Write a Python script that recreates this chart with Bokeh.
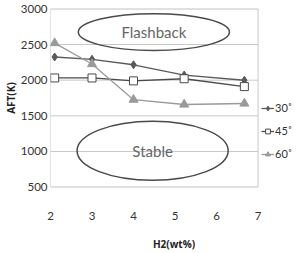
from bokeh.plotting import figure
from bokeh.models import Legend, LegendItem, Ellipse, ColumnDataSource, Label, FixedTicker
from bokeh.embed import file_html
from bokeh.resources import INLINE

h2 = [2.1, 3.0, 4.0, 5.22, 6.67]
aft_30 = [2325, 2293, 2216, 2072, 1999]
aft_45 = [2031, 2031, 1990, 2020, 1910]
aft_60 = [2520, 2226, 1727, 1659, 1673]
series_names = ["30˚", "45˚", "60˚"]
x_ticks = [2, 3, 4, 5, 6, 7]
y_ticks = [500, 1000, 1500, 2000, 2500, 3000]
regions = ["Flashback", "Stable"]
region_x = [4.49, 4.46]
region_y = [2674, 1010]
region_w = [3.64, 3.64]
region_h = [516, 829]

FONT = "Lato"
p = figure(width=297, height=253, output_backend="svg", toolbar_location=None,
           x_range=(2, 7.95), y_range=(495, 3005),
           min_border_left=0, min_border_right=0, min_border_top=8, min_border_bottom=0)
p.outline_line_color = None
p.background_fill_color = "white"
p.border_fill_color = "white"
p.xgrid.grid_line_color = None
p.ygrid.grid_line_color = None

for ax in (p.xaxis[0], p.yaxis[0]):
    ax.axis_line_color = None
    ax.major_tick_line_color = None
    ax.minor_tick_line_color = None
    ax.major_tick_out = 0
    ax.major_tick_in = 0
    ax.minor_tick_out = 0
    ax.minor_tick_in = 0
    ax.major_label_text_font = FONT
    ax.major_label_text_font_size = "11.5px"
    ax.major_label_text_color = "#333333"
    ax.axis_label_text_font = "Open Sans"
    ax.axis_label_text_font_size = "10px"
    ax.axis_label_text_font_style = "bold"
    ax.axis_label_text_color = "#222222"
p.xaxis.ticker = FixedTicker(ticks=x_ticks)
p.yaxis.ticker = FixedTicker(ticks=y_ticks)
p.xaxis.major_label_standoff = 24
p.yaxis.major_label_standoff = 3
p.xaxis.axis_label = "H2(wt%)"
p.yaxis.axis_label = "AFT(K)"
p.xaxis.axis_label_standoff = 14
p.yaxis.axis_label_standoff = 0

# gridlines and plot-area border (limited to the axis extent)
p.segment(x0=[x_ticks[0]] * len(y_ticks), x1=[x_ticks[-1]] * len(y_ticks),
          y0=y_ticks, y1=y_ticks, line_color="#c8c8c8", line_width=1)
p.quad(left=[x_ticks[0]], right=[x_ticks[-1]], bottom=[y_ticks[0]], top=[y_ticks[-1]],
       fill_color=None, line_color="#c8c8c8", line_width=1)

esrc = ColumnDataSource(dict(x=region_x, y=region_y, w=region_w, h=region_h))
p.add_glyph(esrc, Ellipse(x="x", y="y", width="w", height="h", fill_color=None,
                          line_color="#4a4a4a", line_width=1.5))
for i, name in enumerate(regions):
    p.add_layout(Label(x=region_x[i], y=region_y[i], text=name, text_align="center",
                       text_baseline="middle", text_font=FONT, text_font_size="15px",
                       text_color="#666666"))

c30 = "#5a5a5a"
c45 = "#4a4a4a"
c60 = "#9a9a9a"
l30 = p.line(h2, aft_30, line_color=c30, line_width=1.3)
m30 = p.scatter(h2, aft_30, marker="diamond", size=8, fill_color=c30, line_color=c30)
l45 = p.line(h2, aft_45, line_color=c45, line_width=1.3)
m45 = p.scatter(h2, aft_45, marker="square", size=8, fill_color="white", line_color=c45)
l60 = p.line(h2, aft_60, line_color=c60, line_width=1.3)
m60 = p.scatter(h2, aft_60, marker="triangle", size=9, fill_color=c60, line_color=c60)

legend = Legend(items=[LegendItem(label=series_names[0], renderers=[l30, m30]),
                       LegendItem(label=series_names[1], renderers=[l45, m45]),
                       LegendItem(label=series_names[2], renderers=[l60, m60])],
                location=(211, 27), background_fill_alpha=0, border_line_color=None,
                label_text_font=FONT, label_text_font_size="11px", label_text_color="#333333",
                glyph_width=13, glyph_height=12, spacing=10, padding=0, margin=0,
                label_standoff=1, label_height=12, label_width=10)
p.add_layout(legend, "center")

open("out.html", "w").write(file_html(p, INLINE))
